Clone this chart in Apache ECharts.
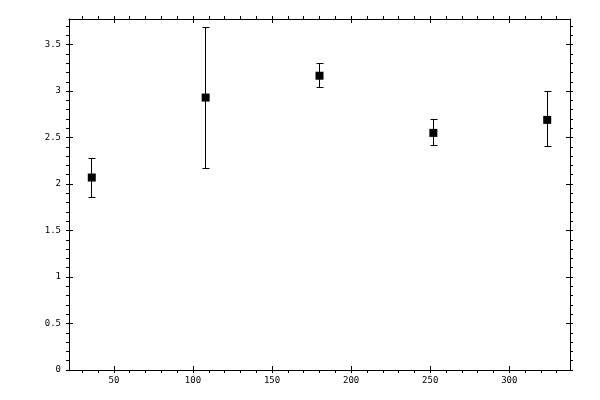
<!DOCTYPE html>
<html>
<head>
    <meta charset="utf-8">
    <title>ECharts</title>
    <script src="https://cdn.jsdelivr.net/npm/echarts@6/dist/echarts.min.js"></script>
</head>
<body style="margin:0">
    <div id="main" style="width: 600px;height:400px;"></div>
    <script type="text/javascript">
    // data
    var xValues = [36, 108, 180, 252, 324];
    var yValues = [2.07, 2.93, 3.165, 2.55, 2.69];
    var yLow = [1.86, 2.17, 3.035, 2.41, 2.40];
    var yHigh = [2.28, 3.68, 3.295, 2.69, 2.99];

    // axis range and ticks
    var xMin = 21.6, xMax = 338.4;
    var yMin = 0, yMax = 3.775;
    var xMajor = [50, 100, 150, 200, 250, 300];
    var xMinor = [30, 40, 50, 60, 70, 80, 90, 100, 110, 120, 130, 140, 150, 160, 170, 180, 190,
        200, 210, 220, 230, 240, 250, 260, 270, 280, 290, 300, 310, 320, 330];
    var yMajor = [0, 0.5, 1, 1.5, 2, 2.5, 3, 3.5];
    var yMinor = [0, 0.1, 0.2, 0.3, 0.4, 0.5, 0.6, 0.7, 0.8, 0.9, 1, 1.1, 1.2, 1.3, 1.4, 1.5,
        1.6, 1.7, 1.8, 1.9, 2, 2.1, 2.2, 2.3, 2.4, 2.5, 2.6, 2.7, 2.8, 2.9, 3, 3.1, 3.2, 3.3,
        3.4, 3.5, 3.6, 3.7];

    var font = { fontFamily: 'DejaVu Sans Mono', fontSize: 9, color: '#000' };

    function axis(kind, pos, ticks, len, inside, showLine, labels) {
        var a = {
            type: 'value',
            position: pos,
            min: kind == 'x' ? xMin : yMin,
            max: kind == 'x' ? xMax : yMax,
            axisLine: { show: showLine, onZero: false, lineStyle: { color: '#000', width: 1 } },
            axisTick: { show: true, customValues: ticks, inside: inside, length: len,
                lineStyle: { color: '#000', width: 1 } },
            axisLabel: { show: false },
            splitLine: { show: false }
        };
        if (labels) {
            a.axisLabel = {
                show: true, customValues: labels, margin: kind == 'x' ? 6 : 8,
                fontFamily: font.fontFamily, fontSize: font.fontSize, color: font.color
            };
        }
        return a;
    }

    // echarts flips a second axis on a used side, so order is minor/minor/major/major
    var xAxes = [
        axis('x', 'bottom', xMinor, 3, false, true, xMajor),
        axis('x', 'top', xMinor, 3, false, true),
        axis('x', 'bottom', xMajor, 4, true, false),
        axis('x', 'top', xMajor, 4, true, false)
    ];
    var yAxes = [
        axis('y', 'left', yMinor, 3, false, true, yMajor),
        axis('y', 'right', yMinor, 3, false, true),
        axis('y', 'left', yMajor, 4, true, false),
        axis('y', 'right', yMajor, 4, true, false)
    ];

    var points = xValues.map(function (x, i) { return [x, yValues[i]]; });
    var bars = xValues.map(function (x, i) { return [x, yLow[i], yHigh[i]]; });

    // snap to half pixels so 1px lines stay sharp
    function px(v) { return Math.round(v - 0.5) + 0.5; }

    var myChart = echarts.init(document.getElementById('main'));
    var option = {
        animation: false,
        backgroundColor: '#fff',
        grid: { left: 69, right: 30, top: 19, bottom: 30 },
        xAxis: xAxes,
        yAxis: yAxes,
        series: [{
            type: 'custom',
            data: bars,
            renderItem: function (params, api) {
                var x = api.value(0);
                var lo = api.coord([x, api.value(1)]);
                var hi = api.coord([x, api.value(2)]);
                var cx = px(lo[0]), y1 = px(lo[1]), y2 = px(hi[1]);
                var w = 3;
                var st = { stroke: '#000', lineWidth: 1 };
                return {
                    type: 'group',
                    children: [
                        { type: 'line', shape: { x1: cx, y1: y1, x2: cx, y2: y2 }, style: st },
                        { type: 'line', shape: { x1: cx - w, y1: y1, x2: cx + w + 1, y2: y1 }, style: st },
                        { type: 'line', shape: { x1: cx - w, y1: y2, x2: cx + w + 1, y2: y2 }, style: st }
                    ]
                };
            }
        }, {
            type: 'scatter',
            data: points,
            symbol: 'rect',
            symbolSize: 8,
            itemStyle: { color: '#000', opacity: 1 }
        }]
    };
    myChart.setOption(option);
    </script>
</body>
</html>
